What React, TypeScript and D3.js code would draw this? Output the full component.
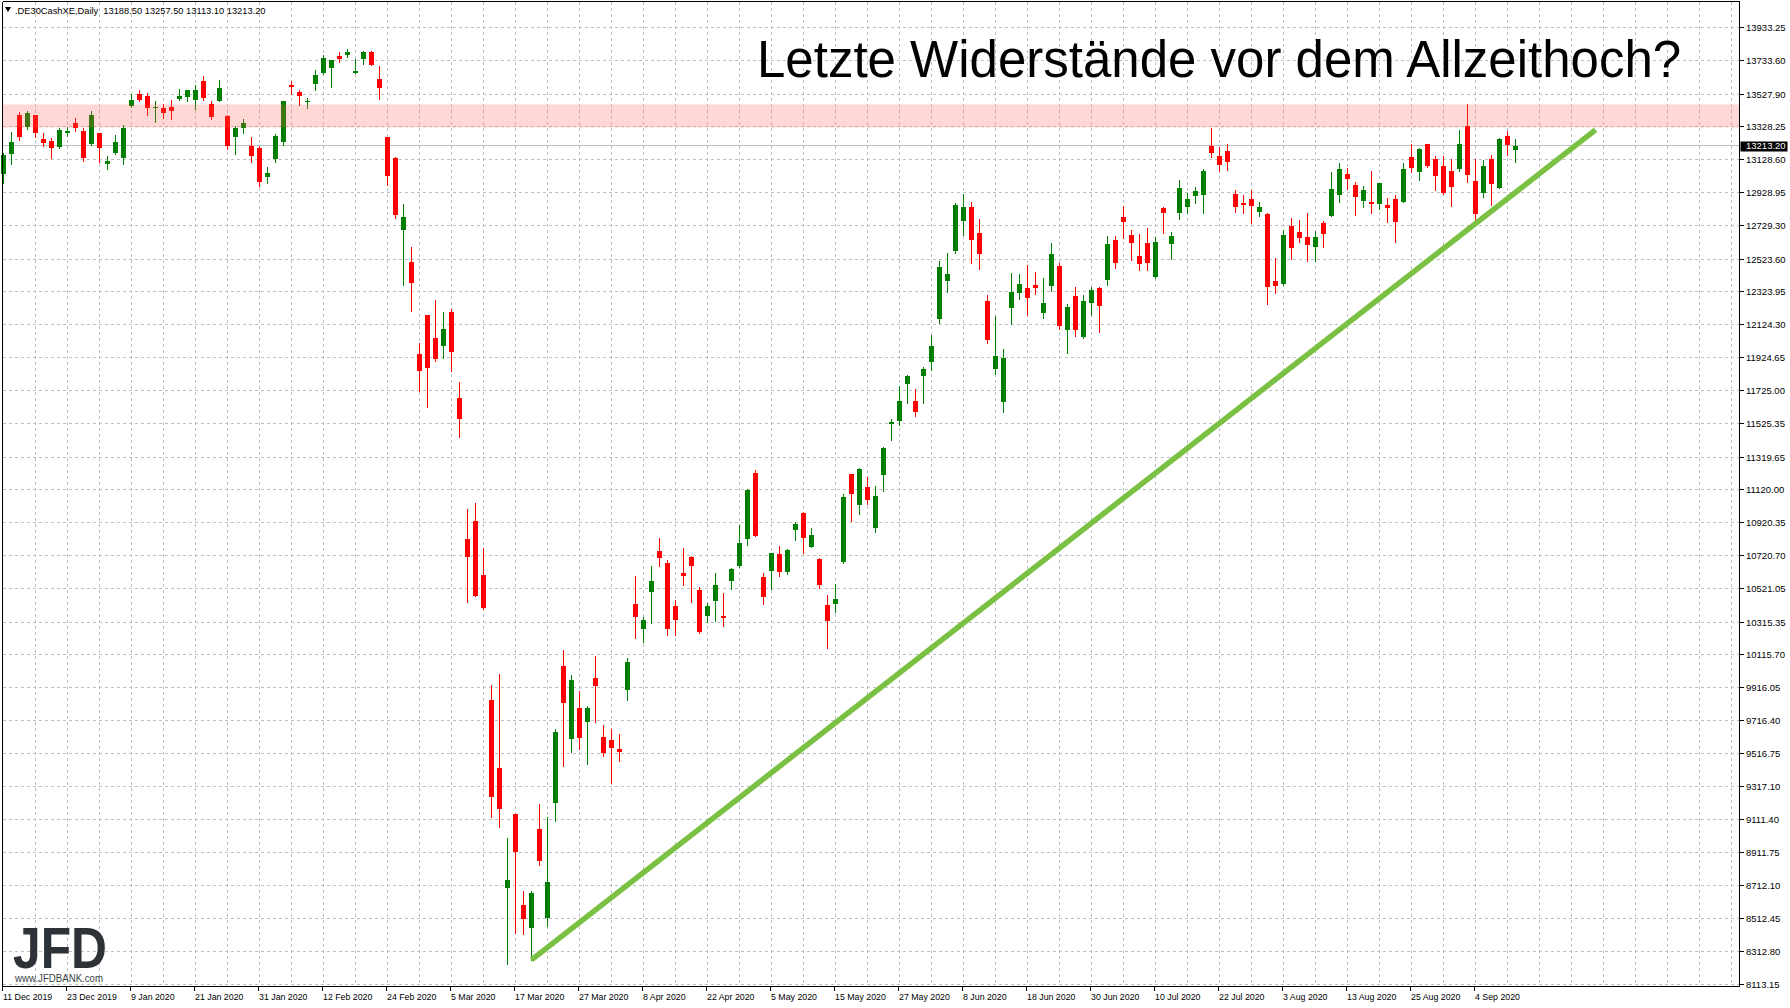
import React, { useEffect, useRef } from "react";
import * as d3 from "d3";

// Daily OHLC, DE30 CFD, 11 Dec 2019 .. 9 Sep 2020
const opens = [
  13040, 13163, 13398, 13327, 13398, 13252, 13240, 13205, 13289, 13355,
  13301, 13224, 13289, 13102, 13167, 13139, 13455, 13526, 13514, 13443,
  13441, 13447, 13497, 13508, 13491, 13605, 13465, 13483, 13392, 13270,
  13321, 13210, 13197, 13023, 13133, 13236, 13581, 13538, 13479, 13589,
  13656, 13686, 13757, 13765, 13656, 13741, 13787, 13617, 13270, 13137,
  12701, 12504, 11945, 12182, 12042, 11995, 12200, 11677, 10822, 10930,
  10604, 9842, 9429, 8697, 9146, 8592, 8455, 9055, 8517, 9213,
  10049, 9602, 9794, 9706, 9977, 9619, 9595, 9545, 9900, 10424,
  10274, 10499, 10747, 10674, 10412, 10613, 10712, 10509, 10353, 10444,
  10351, 10566, 10657, 10822, 11221, 10588, 10627, 10728, 10621, 10876,
  10978, 10773, 10698, 10418, 10426, 10682, 11215, 11028, 11136, 10888,
  11211, 11521, 11539, 11764, 11659, 11813, 11898, 12159, 12391, 12573,
  12755, 12839, 12680, 12267, 11855, 11655, 12226, 12318, 12346, 12364,
  12196, 12360, 12480, 12093, 12297, 12050, 12257, 12346, 12397, 12638,
  12778, 12668, 12541, 12620, 12415, 12833, 12616, 12804, 12841, 12908,
  12914, 13210, 13149, 13179, 12918, 12863, 12887, 12810, 12796, 12389,
  12372, 12723, 12687, 12656, 12597, 12741, 12786, 12914, 13039, 12972,
  12877, 12869, 12859, 12851, 12887, 12871, 13143, 13053, 13222, 13131,
  13088, 13058, 13072, 13331, 12997, 12926, 13131, 12956, 13276, 13188.5,
];

const highs = [
  13171, 13295, 13422, 13428, 13398, 13289, 13258, 13319, 13327, 13380,
  13319, 13428, 13289, 13149, 13282, 13337, 13526, 13550, 13532, 13489,
  13465, 13495, 13562, 13550, 13581, 13641, 13489, 13611, 13398, 13331,
  13374, 13270, 13210, 13082, 13283, 13489, 13605, 13550, 13502, 13672,
  13763, 13733, 13787, 13800, 13739, 13793, 13793, 13696, 13270, 13143,
  12857, 12595, 12012, 12182, 12273, 12200, 12218, 11775, 11002, 11041,
  10767, 9934, 10001, 9000, 9146, 8678, 8678, 9206, 9127, 9667,
  10147, 9991, 9893, 9802, 10107, 9691, 9662, 9634, 10099, 10595,
  10345, 10655, 10826, 10692, 10449, 10765, 10718, 10528, 10432, 10613,
  10491, 10643, 10905, 11128, 11239, 10613, 10738, 10777, 10759, 10923,
  10984, 10886, 10704, 10479, 10546, 11093, 11215, 11251, 11199, 11142,
  11379, 11549, 11750, 11817, 11732, 11865, 12060, 12510, 12559, 12863,
  12918, 12869, 12766, 12303, 12178, 11975, 12437, 12431, 12486, 12443,
  12407, 12620, 12498, 12249, 12352, 12303, 12352, 12352, 12662, 12662,
  12845, 12699, 12674, 12711, 12656, 12839, 12687, 13003, 12924, 12960,
  13070, 13319, 13204, 13222, 12942, 12912, 12942, 12869, 12802, 12528,
  12699, 12772, 12760, 12802, 12693, 12753, 13051, 13106, 13076, 12991,
  12966, 13058, 12985, 12893, 12912, 13106, 13222, 13197, 13222, 13149,
  13149, 13131, 13307, 13465, 13131, 13124, 13155, 13258, 13301, 13257.5,
];

const lows = [
  12990, 13102, 13248, 13315, 13266, 13212, 13139, 13199, 13276, 13303,
  13120, 13218, 13114, 13075, 13161, 13102, 13447, 13483, 13398, 13358,
  13380, 13374, 13491, 13483, 13435, 13495, 13374, 13483, 13191, 13161,
  13291, 13112, 12968, 12987, 13114, 13218, 13526, 13459, 13441, 13552,
  13649, 13574, 13722, 13753, 13656, 13710, 13704, 13497, 12974, 12774,
  12366, 12208, 11722, 11624, 11904, 11924, 11845, 11444, 10436, 10476,
  10395, 9129, 9069, 8236, 8426, 8419, 8260, 8839, 8467, 9105,
  9439, 9523, 9542, 9451, 9706, 9499, 9336, 9470, 9840, 10219,
  10195, 10311, 10657, 10238, 10238, 10542, 10438, 10250, 10317, 10323,
  10292, 10517, 10649, 10785, 10840, 10426, 10517, 10597, 10609, 10815,
  10734, 10773, 10524, 10159, 10378, 10676, 10929, 10972, 11034, 10864,
  11113, 11424, 11515, 11649, 11570, 11649, 11847, 12135, 12324, 12561,
  12668, 12500, 12464, 12014, 11825, 11594, 12129, 12281, 12184, 12312,
  12166, 12330, 12099, 11953, 12056, 12044, 12184, 12080, 12366, 12470,
  12652, 12518, 12457, 12457, 12409, 12682, 12524, 12768, 12804, 12865,
  12804, 13145, 13060, 13066, 12810, 12804, 12743, 12786, 12251, 12318,
  12366, 12524, 12628, 12512, 12512, 12597, 12786, 12871, 12950, 12792,
  12841, 12804, 12828, 12749, 12628, 12871, 13053, 13005, 13084, 12944,
  12920, 12847, 13060, 12993, 12749, 12901, 12853, 12956, 13157, 13113.1,
];

const closes = [
  13155, 13234, 13266, 13410, 13291, 13230, 13199, 13307, 13301, 13321,
  13139, 13398, 13199, 13118, 13234, 13319, 13495, 13491, 13443, 13451,
  13416, 13424, 13514, 13550, 13550, 13502, 13386, 13568, 13210, 13319,
  13354, 13149, 12993, 13045, 13276, 13483, 13570, 13516, 13489, 13647,
  13745, 13733, 13741, 13787, 13666, 13787, 13704, 13564, 13029, 12792,
  12778, 12378, 11843, 11861, 11916, 12097, 11959, 11552, 10714, 10476,
  10404, 9252, 9177, 8745, 8916, 8510, 8666, 8863, 8733, 9648,
  9821, 9965, 9610, 9794, 9924, 9518, 9547, 9523, 10075, 10347,
  10327, 10564, 10706, 10274, 10329, 10597, 10657, 10254, 10412, 10540,
  10341, 10637, 10795, 11118, 10840, 10469, 10734, 10621, 10753, 10911,
  10828, 10844, 10542, 10323, 10455, 11075, 11095, 11245, 11059, 11081,
  11373, 11531, 11659, 11811, 11594, 11853, 11993, 12474, 12431, 12851,
  12839, 12640, 12555, 12032, 11932, 11920, 12322, 12370, 12287, 12348,
  12255, 12553, 12117, 12230, 12093, 12267, 12334, 12239, 12614, 12500,
  12749, 12622, 12494, 12500, 12626, 12804, 12662, 12954, 12887, 12936,
  13058, 13169, 13096, 13114, 12841, 12853, 12847, 12839, 12354, 12360,
  12668, 12591, 12652, 12610, 12656, 12676, 12948, 13070, 13011, 12901,
  12942, 12859, 12985, 12835, 12749, 13070, 13078, 13191, 13090, 13029,
  12926, 12962, 13222, 13035, 12798, 13088, 12981, 13252, 13218, 13213.2,
];

// one date label every 8 bars
const dateLabels = [
  "11 Dec 2019", "23 Dec 2019", "9 Jan 2020", "21 Jan 2020", "31 Jan 2020",
  "12 Feb 2020", "24 Feb 2020", "5 Mar 2020", "17 Mar 2020", "27 Mar 2020",
  "8 Apr 2020", "22 Apr 2020", "5 May 2020", "15 May 2020", "27 May 2020",
  "8 Jun 2020", "18 Jun 2020", "30 Jun 2020", "10 Jul 2020", "22 Jul 2020",
  "3 Aug 2020", "13 Aug 2020", "25 Aug 2020", "4 Sep 2020",
];

const priceTicks = [
  13933.25, 13733.6, 13527.9, 13328.25, 13128.6, 12928.95, 12729.3, 12523.6,
  12323.95, 12124.3, 11924.65, 11725.0, 11525.35, 11319.65, 11120.0, 10920.35,
  10720.7, 10521.05, 10315.35, 10115.7, 9916.05, 9716.4, 9516.75, 9317.1,
  9111.4, 8911.75, 8712.1, 8512.45, 8312.8, 8113.15,
];

const resistanceZone = [13325, 13465];
const trendFrom = [66, 8260]; // [bar, price]
const trendTo = [199, 13310];
const lastPrice = 13213.2;
const chartTitle = "Letzte Widerstände vor dem Allzeithoch?";
const headerText = ".DE30CashXE,Daily  13188.50 13257.50 13113.10 13213.20";

const App: React.FC = () => {
  const svgRef = useRef<SVGSVGElement>(null);

  useEffect(() => {
    document.body.style.margin = "0";
    if (!svgRef.current) return;

    const svg = d3.select(svgRef.current);
    svg.selectAll("*").remove();

    const left = 2.5;
    const right = 1739.5;
    const top = 1.5;
    const bottom = 986.5;
    const font = "'Liberation Sans', Arial, sans-serif";

    const x = d3.scaleLinear().domain([0, 216]).range([3.5, 3.5 + 8 * 216]);
    const y = d3
      .scaleLinear()
      .domain([8113.15, 13933.25])
      .range([984, 27.5]);
    const snap = (v: number) => Math.round(v - 0.5) + 0.5;

    svg.append("rect").attr("width", 1790).attr("height", 1008).attr("fill", "#fff");

    // grid
    const grid = svg
      .append("g")
      .attr("stroke", "#c0c0c0")
      .attr("stroke-dasharray", "3,3")
      .style("shape-rendering", "crispEdges");
    grid
      .selectAll(".hg")
      .data(priceTicks)
      .enter()
      .append("line")
      .attr("x1", left)
      .attr("x2", right)
      .attr("y1", (d) => snap(y(d)))
      .attr("y2", (d) => snap(y(d)));
    grid
      .selectAll(".vg")
      .data(d3.range(4, 217, 4))
      .enter()
      .append("line")
      .attr("x1", (d) => x(d))
      .attr("x2", (d) => x(d))
      .attr("y1", top)
      .attr("y2", bottom);

    // last price line
    svg
      .append("line")
      .attr("x1", left)
      .attr("x2", right)
      .attr("y1", snap(y(lastPrice)))
      .attr("y2", snap(y(lastPrice)))
      .attr("stroke", "#c0c0c0")
      .style("shape-rendering", "crispEdges");

    // candles
    const candles = svg
      .append("g")
      .style("shape-rendering", "crispEdges")
      .selectAll("g")
      .data(d3.range(opens.length))
      .enter()
      .append("g")
      .attr("fill", (i) => (closes[i] >= opens[i] ? "#008000" : "#ff0000"))
      .attr("stroke", (i) => (closes[i] >= opens[i] ? "#008000" : "#ff0000"));

    candles
      .append("line")
      .attr("x1", (i) => x(i))
      .attr("x2", (i) => x(i))
      .attr("y1", (i) => Math.round(y(highs[i])))
      .attr("y2", (i) => Math.round(y(lows[i])) + 1);

    candles
      .append("rect")
      .attr("stroke", "none")
      .attr("x", (i) => x(i) - 2.5)
      .attr("width", 5)
      .attr("y", (i) => Math.round(y(Math.max(opens[i], closes[i]))))
      .attr("height", (i) =>
        Math.max(
          1,
          Math.round(y(Math.min(opens[i], closes[i]))) -
            Math.round(y(Math.max(opens[i], closes[i])))
        )
      );

    // resistance zone
    svg
      .append("rect")
      .attr("x", left)
      .attr("width", right - left)
      .attr("y", y(resistanceZone[1]))
      .attr("height", y(resistanceZone[0]) - y(resistanceZone[1]))
      .attr("fill", "rgba(255, 90, 80, 0.24)");

    // trend line
    svg
      .append("line")
      .attr("x1", x(trendFrom[0]))
      .attr("y1", y(trendFrom[1]))
      .attr("x2", x(trendTo[0]))
      .attr("y2", y(trendTo[1]))
      .attr("stroke", "#7ac143")
      .attr("stroke-width", 5.5);

    // frame and axes
    const frame = svg.append("g").attr("stroke", "#000").style("shape-rendering", "crispEdges");
    frame.append("line").attr("x1", left).attr("x2", left).attr("y1", top).attr("y2", bottom);
    frame.append("line").attr("x1", left).attr("x2", right).attr("y1", top).attr("y2", top);
    frame.append("line").attr("x1", right).attr("x2", right).attr("y1", top).attr("y2", bottom);
    frame.append("line").attr("x1", left).attr("x2", right).attr("y1", bottom).attr("y2", bottom);

    frame
      .selectAll(".pt")
      .data(priceTicks)
      .enter()
      .append("line")
      .attr("x1", right)
      .attr("x2", right + 4)
      .attr("y1", (d) => snap(y(d)))
      .attr("y2", (d) => snap(y(d)));

    svg
      .append("g")
      .style("font-family", font)
      .style("font-size", "9.5px")
      .attr("fill", "#000")
      .selectAll("text")
      .data(priceTicks)
      .enter()
      .append("text")
      .attr("x", right + 6.5)
      .attr("y", (d) => y(d) + 3.5)
      .text((d) => d.toFixed(2));

    // current price tag
    svg
      .append("rect")
      .attr("x", right + 1)
      .attr("y", Math.round(y(lastPrice)) - 4.5)
      .attr("width", 47)
      .attr("height", 10)
      .attr("fill", "#000");
    svg
      .append("text")
      .attr("x", right + 6.5)
      .attr("y", y(lastPrice) + 3.5)
      .style("font-family", font)
      .style("font-size", "9.5px")
      .attr("fill", "#fff")
      .text(lastPrice.toFixed(2));

    // date axis
    frame
      .selectAll(".dt")
      .data(dateLabels)
      .enter()
      .append("line")
      .attr("x1", (_, k) => x(k * 8) - 1)
      .attr("x2", (_, k) => x(k * 8) - 1)
      .attr("y1", bottom)
      .attr("y2", bottom + 4);

    svg
      .append("g")
      .style("font-family", font)
      .style("font-size", "8.8px")
      .attr("fill", "#000")
      .selectAll("text")
      .data(dateLabels)
      .enter()
      .append("text")
      .attr("x", (_, k) => x(k * 8) - 0.5)
      .attr("y", 1000)
      .text((d) => d);

    // header
    svg
      .append("path")
      .attr("d", "M5,7 L11,7 L8,12 Z")
      .attr("fill", "#000");
    svg
      .append("text")
      .attr("x", 15)
      .attr("y", 13.5)
      .style("font-family", font)
      .style("font-size", "9.3px")
      .style("white-space", "pre")
      .attr("fill", "#000")
      .text(headerText);

    // title
    svg
      .append("text")
      .attr("x", 757)
      .attr("y", 77)
      .style("font-family", font)
      .style("font-size", "51px")
      .attr("fill", "#000")
      .text(chartTitle);

    // logo
    svg
      .append("text")
      .attr("x", 13)
      .attr("y", 968)
      .attr("textLength", 94)
      .attr("lengthAdjust", "spacingAndGlyphs")
      .style("font-family", font)
      .style("font-weight", "700")
      .style("font-size", "57px")
      .attr("fill", "#2d3238")
      .text("JFD");
    svg
      .append("text")
      .attr("x", 15)
      .attr("y", 981.5)
      .attr("textLength", 88)
      .attr("lengthAdjust", "spacingAndGlyphs")
      .style("font-family", font)
      .style("font-size", "10px")
      .attr("fill", "#3a3f45")
      .text("www.JFDBANK.com");
  }, []);

  return (
    <svg
      ref={svgRef}
      width={1790}
      height={1008}
      style={{ position: "absolute", left: 0, top: 0, display: "block" }}
    />
  );
};

export default App;
